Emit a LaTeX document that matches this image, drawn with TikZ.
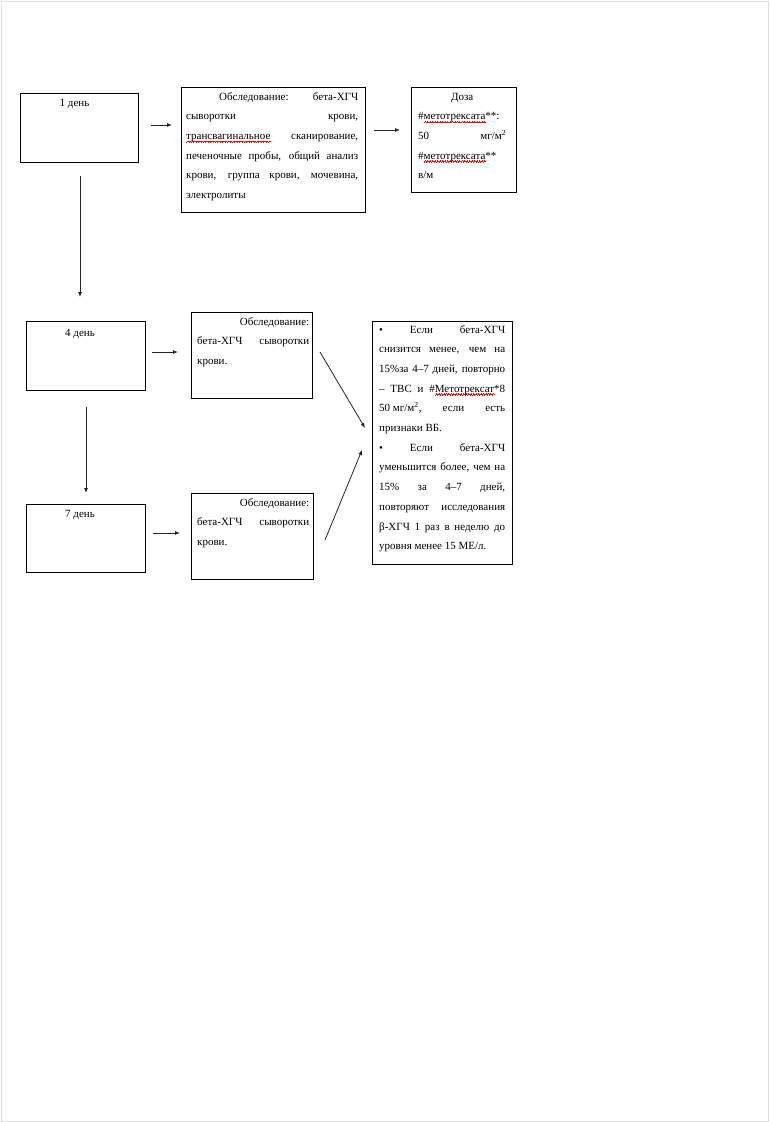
\documentclass[tikz,border=0pt]{standalone}
\usepackage{fontspec}
\setmainfont{Liberation Serif}
\usetikzlibrary{arrows.meta}
\newsavebox\spelltmp
\newcommand\waveunit{\hbox{\rule{0.6pt}{0.6pt}\rule[0.6pt]{0.6pt}{0.6pt}\rule[1.2pt]{0.6pt}{0.6pt}\rule[0.6pt]{0.6pt}{0.6pt}}}
\newcommand\spellerr[1]{\sbox\spelltmp{#1}\leavevmode\rlap{\raisebox{-3pt}[0pt][0pt]{\hbox to\wd\spelltmp{\color{red}\xleaders\waveunit\hfil}}}#1}
\begin{document}
\begin{tikzpicture}[x=1pt,y=-1pt,
  box/.style={draw=black, line width=0.8pt, inner sep=0pt, outer sep=0pt},
  txt/.style={inner sep=0pt, font=\fontsize{11}{19.7}\selectfont, align=justify, anchor=base west},
  day/.style={inner sep=0pt, font=\fontsize{11}{19.7}\selectfont, anchor=base},
  arr/.style={-{Latex[length=5pt,width=4pt]}, line width=0.8pt, black!85}]
\useasboundingbox (0,0) rectangle (770,1122);
\draw[gray!25, line width=0.8pt] (1,1) rectangle (768,1121);
% boxes
\node[box, minimum width=118pt, minimum height=69pt]  (b1) at (79,127.5) {};
\node[box, minimum width=184pt, minimum height=125pt] (b2) at (273,149.5) {};
\node[box, minimum width=105pt, minimum height=105pt] (b3) at (463.5,139.5) {};
\node[box, minimum width=119pt, minimum height=69pt]  (b4) at (85.5,355.5) {};
\node[box, minimum width=121pt, minimum height=86pt]  (b5) at (251.5,355) {};
\node[box, minimum width=140pt, minimum height=243pt] (b6) at (442,442.5) {};
\node[box, minimum width=119pt, minimum height=68pt]  (b7) at (85.5,538) {};
\node[box, minimum width=122pt, minimum height=86pt]  (b8) at (252,536) {};
% texts
\node[day] (t1) at (74.5,106) {1 день};
\node[day] (t4) at (80,336) {4 день};
\node[day] (t7) at (80,517) {7 день};
\node[txt, text width=172pt] (t2) at (186,100) {\hspace*{33pt}Обследование: бета-ХГЧ\linebreak
сыворотки крови,\linebreak
\spellerr{трансвагинальное} сканирование,\linebreak
печеночные пробы, общий анализ\linebreak
крови, группа крови, мочевина,\linebreak
электролиты};
\node[txt, text width=88pt] (t3) at (418,100) {\hfil Доза\hfil\null\linebreak
\#\spellerr{метотрексата}**:\linebreak
50 мг/м\textsuperscript{2}\linebreak
\#\spellerr{метотрексата}**\linebreak
в/м};
\node[txt, text width=112pt] (t5) at (197,325) {\hfill Обследование:\linebreak
бета-ХГЧ сыворотки\linebreak
крови.};
\node[txt, text width=112pt] (t8) at (197,506) {\hfill Обследование:\linebreak
бета-ХГЧ сыворотки\linebreak
крови.};
\node[txt, text width=126pt] (t6) at (379,333) {• Если бета-ХГЧ\linebreak
снизится менее, чем на\linebreak
15\%за 4–7 дней, повторно\linebreak
– ТВС и \#\spellerr{Метотрексат}*8\linebreak
\hbox{50 мг/м\textsuperscript{2},} если есть\linebreak
признаки ВБ.\par
• Если бета-ХГЧ\linebreak
уменьшится более, чем на\linebreak
15\% за 4–7 дней,\linebreak
повторяют исследования\linebreak
β-ХГЧ 1 раз в неделю до\linebreak
уровня менее 15 МЕ/л.};
% connectors
\draw[arr] ([shift={(13,-2.5)}]b1.east) -- ([shift={(-9,-24.5)}]b2.west);
\draw[arr] ([shift={(9,-19.5)}]b2.east) -- ([shift={(-11,-9.5)}]b3.west);
\draw[arr] ([shift={(1,14)}]b1.south) -- ([shift={(-5.5,-24)}]b4.north);
\draw[arr] ([shift={(7,-3.5)}]b4.east) -- ([shift={(-13,-3)}]b5.west);
\draw[arr] ([shift={(0.5,17)}]b4.south) -- ([shift={(0.5,-11)}]b7.north);
\draw[arr] ([shift={(8,-5)}]b7.east) -- ([shift={(-11,-3)}]b8.west);
\draw[arr] ([shift={(8,-3)}]b5.east) -- ([shift={(-7,-14.5)}]b6.west);
\draw[arr] ([shift={(12,4)}]b8.east) -- ([shift={(-10,7.5)}]b6.west);
\end{tikzpicture}
\end{document}
